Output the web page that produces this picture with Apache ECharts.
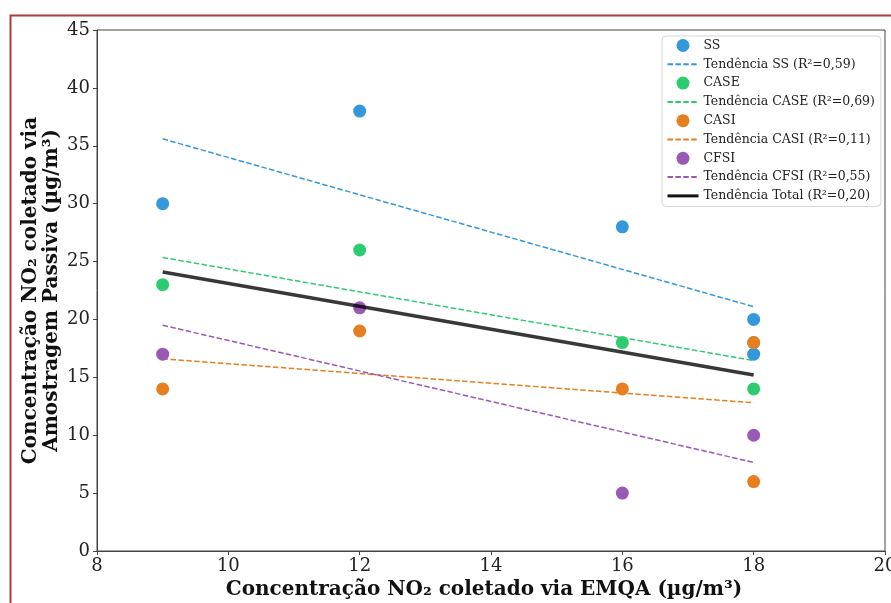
<!DOCTYPE html>
<html>
<head>
<meta charset="utf-8">
<script src="https://cdn.jsdelivr.net/npm/echarts@6/dist/echarts.min.js"></script>
<style>
html,body{margin:0;padding:0;background:#fff;}
#chart{width:891px;height:603px;}
</style>
</head>
<body>
<div id="chart"></div>
<script>
// Observed points (x = EMQA, y = passive sampling)
const ssX = [9, 12, 16, 18, 18];
const ssY = [30, 38, 28, 20, 17];
const caseX = [9, 12, 16, 18, 18];
const caseY = [23, 26, 18, 14, 18];
const casiX = [9, 12, 16, 18, 18];
const casiY = [14, 19, 14, 18, 6];
const cfsiX = [9, 12, 16, 18];
const cfsiY = [17, 21, 5, 10];

// Trend lines (endpoints)
const trendX = [9, 18];
const ssTrend = [35.6, 21.1];
const caseTrend = [25.35, 16.45];
const casiTrend = [16.6, 12.8];
const cfsiTrend = [19.5, 7.65];
const totalTrend = [24.1, 15.2];

const legendNames = ['SS', 'Tendência SS (R²=0,59)', 'CASE', 'Tendência CASE (R²=0,69)',
  'CASI', 'Tendência CASI (R²=0,11)', 'CFSI', 'Tendência CFSI (R²=0,55)', 'Tendência Total (R²=0,20)'];

const xTicks = [8, 10, 12, 14, 16, 18, 20];
const yTicks = [0, 5, 10, 15, 20, 25, 30, 35, 40, 45];

const colors = {ss: '#3498db', case: '#2ecc71', casi: '#e67e22', cfsi: '#9b59b6'};

function pts(xs, ys) { return xs.map((x, i) => [x, ys[i]]); }

function scatter(name, xs, ys, color) {
  return {
    name: name, type: 'scatter', data: pts(xs, ys), symbol: 'circle', symbolSize: 13,
    itemStyle: {color: color, opacity: 1}, z: 3, emphasis: {disabled: true}
  };
}
function trend(name, ys, color) {
  return {
    name: name, type: 'line', data: pts(trendX, ys), symbol: 'none', showSymbol: false,
    lineStyle: {color: color, width: 1.5, type: [5.5, 2.4]}, itemStyle: {color: color},
    z: 2, emphasis: {disabled: true}
  };
}

const serif = 'DejaVu Serif';
const chart = echarts.init(document.getElementById('chart'), null, {renderer: 'canvas'});
chart.setOption({
  animation: false,
  backgroundColor: '#ffffff',
  grid: {left: 97, right: 6, top: 30, bottom: 52, containLabel: false, outerBoundsMode: 'none',
    show: true, borderColor: '#444', borderWidth: 1, backgroundColor: 'transparent'},
  xAxis: {
    type: 'value', min: xTicks[0], max: xTicks[xTicks.length - 1], interval: 2,
    name: 'Concentração NO₂ coletado via EMQA (µg/m³)',
    nameLocation: 'middle', nameGap: 29, nameMoveOverlap: false,
    nameTextStyle: {fontFamily: serif, fontWeight: 'bold', fontSize: 20, color: '#111', padding: [0, 14, 0, 0]},
    axisLine: {show: true, lineStyle: {color: '#444', width: 1}},
    axisTick: {show: true, length: 4, lineStyle: {color: '#444'}},
    axisLabel: {fontFamily: serif, fontSize: 18, color: '#222', margin: 6, hideOverlap: false},
    splitLine: {show: false}
  },
  yAxis: {
    type: 'value', min: yTicks[0], max: yTicks[yTicks.length - 1], interval: 5,
    name: 'Concentração NO₂ coletado via\nAmostragem Passiva (µg/m³)',
    nameLocation: 'middle', nameRotate: 90, nameGap: 35, nameMoveOverlap: false,
    nameTextStyle: {fontFamily: serif, fontWeight: 'bold', fontSize: 20, color: '#111', lineHeight: 21, align: 'center'},
    axisLine: {show: true, lineStyle: {color: '#444', width: 1}},
    axisTick: {show: true, length: 4, lineStyle: {color: '#444'}},
    axisLabel: {fontFamily: serif, fontSize: 18, color: '#222', margin: 7, hideOverlap: false},
    splitLine: {show: false}
  },
  legend: {
    data: legendNames.map((n, i) => i === 8
      ? {name: n, itemStyle: {opacity: 0}, lineStyle: {width: 3, color: '#111'}}
      : (i % 2 === 1 ? {name: n, itemStyle: {opacity: 0}} : {name: n})),
    orient: 'vertical', left: 662, top: 36,
    padding: [3, 6, 4, 4],
    itemWidth: 31, itemHeight: 13, itemGap: 5.8,
    backgroundColor: '#fff', borderColor: '#d4d4d4', borderWidth: 1, borderRadius: 4,
    textStyle: {fontFamily: serif, fontSize: 12.5, color: '#222'},
    selectedMode: false
  },
  graphic: [{
    type: 'rect', left: 8, top: 13, silent: true,
    shape: {width: 900, height: 700},
    style: {fill: 'none', stroke: '#a53d3d', lineWidth: 2}, z: 100
  }],
  series: [
    trend(legendNames[1], ssTrend, colors.ss),
    trend(legendNames[3], caseTrend, colors.case),
    trend(legendNames[5], casiTrend, colors.casi),
    trend(legendNames[7], cfsiTrend, colors.cfsi),
    scatter(legendNames[0], ssX, ssY, colors.ss),
    scatter(legendNames[2], caseX, caseY, colors.case),
    scatter(legendNames[4], casiX, casiY, colors.casi),
    scatter(legendNames[6], cfsiX, cfsiY, colors.cfsi),
    {
      name: legendNames[8], type: 'line', data: pts(trendX, totalTrend), symbol: 'none', showSymbol: false,
      lineStyle: {color: 'rgba(0,0,0,0.78)', width: 3.5}, itemStyle: {color: '#000'}, z: 4,
      emphasis: {disabled: true}
    }
  ]
});
</script>
</body>
</html>
